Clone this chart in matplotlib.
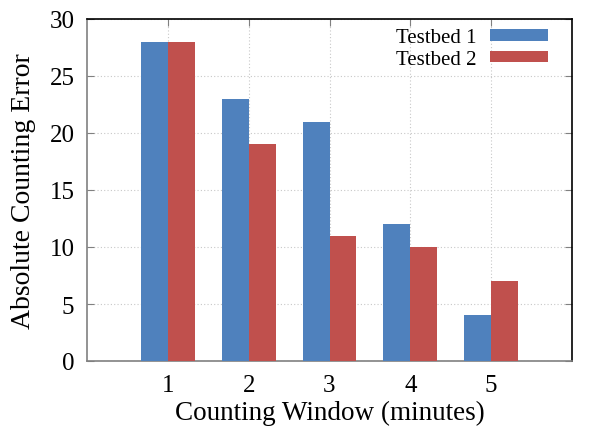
import numpy as np
import matplotlib
matplotlib.use("Agg")
import matplotlib.pyplot as plt

windows = [1, 2, 3, 4, 5]
testbed1 = [28, 23, 21, 12, 4]
testbed2 = [28, 19, 11, 10, 7]
series_names = ["Testbed 1", "Testbed 2"]

plt.rcParams['font.family'] = ['Liberation Serif', 'DejaVu Serif']

fig = plt.figure(figsize=(6.08, 4.27), dpi=100)
ax = fig.add_axes([87/608, 1 - 362/427, (572-87)/608, (362-20)/427])

x = np.array(windows)
w = 1/3
ax.bar(x - w/2, testbed1, width=w, color='#4F81BD', label=series_names[0], zorder=3)
ax.bar(x + w/2, testbed2, width=w, color='#C0504D', label=series_names[1], zorder=3)

ax.set_xlim(0, 6)
ax.set_ylim(0, 30)
ax.set_xticks(windows)
ax.set_yticks(range(0, 31, 5))
ax.tick_params(labelsize=18, direction='in', color='#808080', length=5,
               top=True, right=True, bottom=False, pad=9)
ax.grid(True, color='#c8c8c8', linestyle=(0, (1, 2)), linewidth=0.8, zorder=0)

for s in ['left', 'bottom']:
    ax.spines[s].set_color('#808080')
for s in ['top', 'right']:
    ax.spines[s].set_color('black')
for s in ax.spines.values():
    s.set_linewidth(1.2)

ax.set_xlabel("Counting Window (minutes)", fontsize=19.5, labelpad=3)
ax.set_ylabel("Absolute Counting Error", fontsize=20, labelpad=10)

leg = ax.legend(loc='upper right', fontsize=15, frameon=False, markerfirst=False,
                handlelength=2.75, handleheight=0.45, handletextpad=0.65,
                labelspacing=0.12, borderaxespad=0.2, borderpad=0.3,
                bbox_to_anchor=(1 - 14/485, 1.003))

fig.savefig("out.png", dpi=100)
